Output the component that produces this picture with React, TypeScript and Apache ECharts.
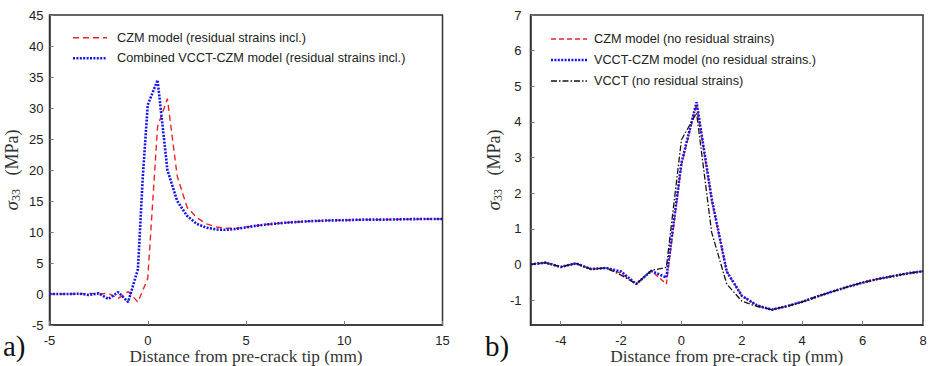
import React, { useEffect, useRef } from "react";
import * as echarts from "echarts";

// ---- Panel a) data ----
const xA_czm = [-5, -4.5, -4, -3.5, -3, -2.5, -2, -1.5, -1, -0.5, 0, 0.5, 1, 1.5, 2, 2.5, 3, 3.5, 4, 4.5, 5, 5.5, 6, 6.5, 7, 7.5, 8, 9, 10, 11, 12, 13, 14, 15];
const yA_czm = [0, 0, 0, 0, 0.1, 0, 0.1, -0.7, 0.4, -1.3, 2.5, 27, 31.5, 19, 14, 12.3, 11.3, 10.8, 10.6, 10.6, 10.8, 11, 11.2, 11.35, 11.5, 11.6, 11.7, 11.85, 11.9, 12, 12, 12.05, 12.1, 12.1];
const xA_comb = [-5, -4.5, -4, -3.5, -3, -2.5, -2, -1.5, -1, -0.5, -0.25, 0, 0.5, 1, 1.5, 2, 2.5, 3, 3.5, 4, 4.5, 5, 5.5, 6, 6.5, 7, 7.5, 8, 9, 10, 11, 12, 13, 14, 15];
const yA_comb = [0, 0, 0, 0.05, -0.15, 0.1, -0.8, 0.3, -1.3, 4, 19, 30.5, 34.5, 20, 15, 12.6, 11.3, 10.7, 10.4, 10.35, 10.5, 10.75, 11, 11.2, 11.35, 11.5, 11.6, 11.7, 11.85, 11.9, 12, 12, 12.05, 12.1, 12.1];

// ---- Panel b) data ----
const xB = [-5, -4.5, -4, -3.5, -3, -2.5, -2, -1.5, -1, -0.5, 0, 0.5, 1, 1.5, 2, 2.5, 3, 3.5, 4, 4.5, 5, 5.5, 6, 6.5, 7, 7.5, 8];
const yB_czm = [0, 0.05, -0.07, 0.03, -0.13, -0.1, -0.25, -0.55, -0.18, -0.55, 2.8, 4.5, 1.8, -0.2, -0.88, -1.15, -1.27, -1.17, -1.05, -0.9, -0.76, -0.63, -0.51, -0.41, -0.33, -0.25, -0.19];
const yB_vcctczm = [0, 0.05, -0.07, 0.03, -0.13, -0.1, -0.2, -0.55, -0.18, -0.37, 2.85, 4.55, 1.85, -0.2, -0.88, -1.15, -1.27, -1.17, -1.05, -0.9, -0.76, -0.63, -0.51, -0.41, -0.33, -0.25, -0.19];
const yB_vcct = [0, 0.05, -0.07, 0.03, -0.13, -0.1, -0.3, -0.55, -0.17, -0.08, 3.5, 4.25, 0.9, -0.55, -1.03, -1.18, -1.27, -1.17, -1.05, -0.9, -0.76, -0.63, -0.51, -0.41, -0.33, -0.25, -0.19];

// ---- tick labels ----
const xTicksA = [-5, 0, 5, 10, 15];
const yTicksA = [-5, 0, 5, 10, 15, 20, 25, 30, 35, 40, 45];
const xTicksB = [-4, -2, 0, 2, 4, 6, 8];
const yTicksB = [-1, 0, 1, 2, 3, 4, 5, 6, 7];

const namesA = ["CZM model (residual strains incl.)", "Combined VCCT-CZM model (residual strains incl.)"];
const namesB = ["CZM model (no residual strains)", "VCCT-CZM model (no residual strains.)", "VCCT (no residual strains)"];

const xTitle = "Distance from pre-crack tip (mm)";

const pair = (xs: number[], ys: number[]) => xs.map((x, i) => [x, ys[i]]);

const RED = "#ee2424";
const BLUE = "#1414f0";
const BLACK = "#151515";

export default function App() {
  const ref = useRef<HTMLDivElement>(null);
  useEffect(() => {
    if (!ref.current) return;
    const chart = echarts.init(ref.current, null, { renderer: "svg" });
    const sans = "'Liberation Sans', Arial, sans-serif";
    const serif = "'Liberation Serif', 'Times New Roman', serif";
    const axisLineStyle = { show: true, onZero: false, lineStyle: { color: "#333", width: 1.5 } };
    const tickStyle = { color: "#777" };
    const labelStyle = { color: "#222", fontSize: 13, fontFamily: sans };

    const xAxisBase = (i: number, min: number, max: number, ticks: number[]) => ({
      type: "value",
      gridIndex: i,
      min,
      max,
      axisLine: axisLineStyle,
      splitLine: { show: false },
      axisTick: { show: true, inside: true, length: 4, lineStyle: tickStyle, customValues: ticks },
      axisLabel: { ...labelStyle, margin: 9, customValues: ticks },
    });
    const yName = "{s|σ}{sub|33}   (MPa)";
    const yRich = {
      s: { fontStyle: "italic", fontSize: 19, fontFamily: serif, color: "#333" },
      sub: { fontSize: 12, fontFamily: serif, color: "#333", padding: [8, 0, 0, 0] },
    };
    const yAxisBase = (i: number, min: number, max: number, ticks: number[], gap: number, margin: number) => ({
      type: "value",
      gridIndex: i,
      min,
      max,
      axisLine: axisLineStyle,
      splitLine: { show: false },
      axisTick: { show: true, inside: true, length: 4, lineStyle: tickStyle, customValues: ticks },
      axisLabel: { ...labelStyle, margin, customValues: ticks },
      name: yName,
      nameLocation: "middle",
      nameGap: gap,
      nameTextStyle: { color: "#333", fontSize: 18, fontFamily: serif, rich: yRich },
    });

    // manual legend
    const legendItems = (
      names: string[],
      x0: number,
      len: number,
      tx: number,
      ys: number[],
      styles: any[]
    ) => {
      const out: any[] = [];
      names.forEach((n, i) => {
        out.push({
          type: "line",
          shape: { x1: x0, y1: ys[i], x2: x0 + len, y2: ys[i] },
          style: { stroke: styles[i].color, lineWidth: styles[i].width, lineDash: styles[i].dash },
        });
        out.push({
          type: "text",
          x: tx,
          y: ys[i],
          style: { text: n, fontSize: 12.7, fontFamily: sans, fill: "#222", verticalAlign: "middle", align: "left" },
        });
      });
      return out;
    };
    const stRed = { color: RED, width: 1.4, dash: [6, 4] };
    const stRedB = { color: RED, width: 1.4, dash: [5, 3] };
    const stBlue = { color: BLUE, width: 2.6, dash: [2, 1.4] };
    const stBlack = { color: BLACK, width: 1.3, dash: [6, 2, 1.5, 2] };

    const gridCommon = { show: true, borderColor: "#333", borderWidth: 1.5, containLabel: false, outerBoundsMode: "none" };
    const option: any = {
      animation: false,
      backgroundColor: "#fff",
      grid: [
        { left: 49.5, right: 490.5, top: 15, bottom: 41, ...gridCommon },
        { left: 530.5, right: 10, top: 15, bottom: 41, ...gridCommon },
      ],
      xAxis: [xAxisBase(0, -5, 15, xTicksA), xAxisBase(1, -5, 8, xTicksB)],
      yAxis: [yAxisBase(0, -5, 45, yTicksA, 28, 6), yAxisBase(1, -1.7, 7, yTicksB, 27, 9)],
      series: [
        {
          name: namesA[0], type: "line", xAxisIndex: 0, yAxisIndex: 0, symbol: "none",
          data: pair(xA_czm, yA_czm),
          lineStyle: { color: RED, width: stRed.width, type: stRed.dash }, z: 2,
        },
        {
          name: namesA[1], type: "line", xAxisIndex: 0, yAxisIndex: 0, symbol: "none",
          data: pair(xA_comb, yA_comb),
          lineStyle: { color: BLUE, width: stBlue.width, type: stBlue.dash }, z: 3,
        },
        {
          name: namesB[0], type: "line", xAxisIndex: 1, yAxisIndex: 1, symbol: "none",
          data: pair(xB, yB_czm),
          lineStyle: { color: RED, width: stRedB.width, type: stRedB.dash }, z: 2,
        },
        {
          name: namesB[1], type: "line", xAxisIndex: 1, yAxisIndex: 1, symbol: "none",
          data: pair(xB, yB_vcctczm),
          lineStyle: { color: BLUE, width: stBlue.width, type: stBlue.dash }, z: 3,
        },
        {
          name: namesB[2], type: "line", xAxisIndex: 1, yAxisIndex: 1, symbol: "none",
          data: pair(xB, yB_vcct),
          lineStyle: { color: BLACK, width: stBlack.width, type: stBlack.dash }, z: 4,
        },
      ],
      graphic: [
        ...legendItems(namesA, 73, 34, 117, [37.7, 58.3], [stRed, stBlue]),
        ...legendItems(namesB, 551, 36, 594, [39, 60, 81], [stRedB, stBlue, stBlack]),
        { type: "text", x: 246, y: 356, style: { text: xTitle, fontSize: 17.3, fontFamily: serif, fill: "#333", align: "center", verticalAlign: "middle" } },
        { type: "text", x: 726.75, y: 356, style: { text: xTitle, fontSize: 17.3, fontFamily: serif, fill: "#333", align: "center", verticalAlign: "middle" } },
        { type: "text", left: 3, top: 331, style: { text: "a)", fontSize: 29, fontFamily: serif, fill: "#111" } },
        { type: "text", left: 485, top: 331, style: { text: "b)", fontSize: 29, fontFamily: serif, fill: "#111" } },
      ],
    };
    chart.setOption(option);
    return () => chart.dispose();
  }, []);
  return <div ref={ref} style={{ width: 933, height: 366, position: "absolute", left: 0, top: 0 }} />;
}
